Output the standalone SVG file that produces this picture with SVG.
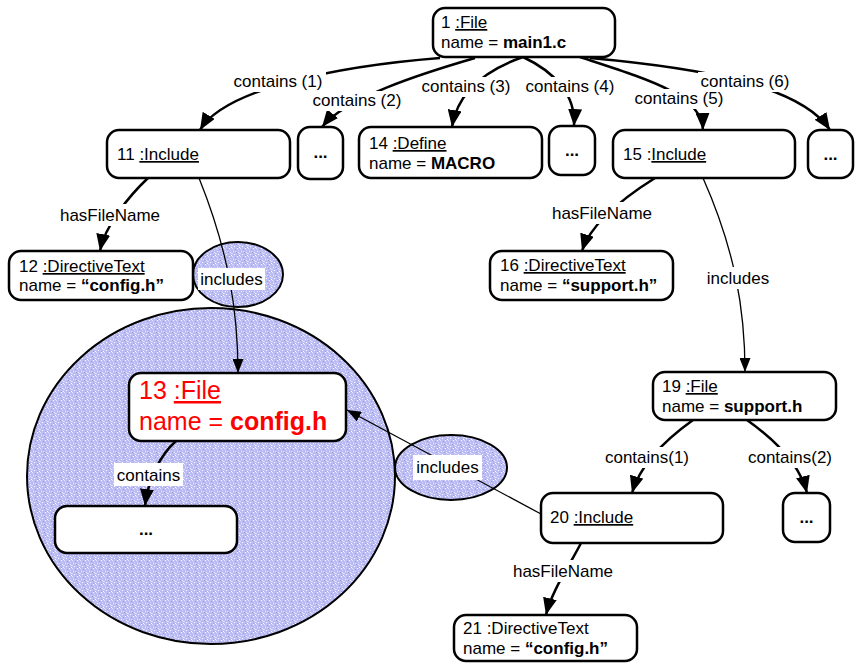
<svg xmlns="http://www.w3.org/2000/svg" width="857" height="663" viewBox="0 0 857 663">
<style>
.node rect{fill:#fff;stroke:#000;stroke-width:2.5}
text{font-family:"Liberation Sans",Arial,sans-serif;font-size:17px;fill:#000}
.u{text-decoration:underline}
.b{font-weight:bold}
.e{fill:none;stroke:#000;stroke-width:2.5}
.t{fill:none;stroke:#000;stroke-width:1.3}
.lb{fill:#fff}
.zone{fill:url(#tex);stroke:#000;stroke-width:2}
</style>
<defs>
<pattern id="tex" width="8" height="8" patternUnits="userSpaceOnUse">
<rect width="8" height="8" fill="#bcbcf4"/>
<rect x="0" y="0" width="1" height="1" fill="#e2e2fc"/>
<rect x="3" y="1" width="1" height="1" fill="#9a9ae6"/>
<rect x="5" y="0" width="1" height="1" fill="#ffffff"/>
<rect x="1" y="3" width="1" height="1" fill="#f0f0ff"/>
<rect x="6" y="2" width="1" height="1" fill="#d0d0f8"/>
<rect x="4" y="4" width="1" height="1" fill="#a0a0e8"/>
<rect x="2" y="6" width="1" height="1" fill="#ffffff"/>
<rect x="7" y="5" width="1" height="1" fill="#e6e6fd"/>
<rect x="5" y="7" width="1" height="1" fill="#9c9ce4"/>
<rect x="0" y="5" width="1" height="1" fill="#d8d8fa"/>
<rect x="7" y="7" width="1" height="1" fill="#ffffff"/>
<rect x="3" y="3" width="1" height="1" fill="#dadafb"/>
<rect x="6" y="4" width="1" height="1" fill="#ececfe"/>
<rect x="1" y="1" width="1" height="1" fill="#d4d4f9"/>
</pattern>
<marker id="ah" markerUnits="userSpaceOnUse" markerWidth="18" markerHeight="14" refX="17" refY="7" orient="auto">
<path d="M0,0 L17,7 L0,14 Z" fill="#000"/>
</marker>
<marker id="ahs" markerUnits="userSpaceOnUse" markerWidth="14" markerHeight="11" refX="14" refY="5.5" orient="auto">
<path d="M0,0 L14,5.5 L0,11 Z" fill="#000"/>
</marker>
</defs>

<g id="zones">
<ellipse class="zone" cx="211" cy="476" rx="184" ry="168"/>
<ellipse class="zone" cx="238" cy="274.5" rx="45" ry="32.5"/>
<ellipse class="zone" cx="451" cy="467.5" rx="56" ry="32.5"/>
</g>

<g id="connectors">
<path class="e" d="M 440 58 C 340 66, 225 88, 200 130" marker-end="url(#ah)"/>
<path class="e" d="M 475 58 C 420 74, 345 98, 322 127" marker-end="url(#ah)"/>
<path class="e" d="M 523 57 C 480 72, 457 95, 452 127" marker-end="url(#ah)"/>
<path class="e" d="M 523 57 C 555 72, 576 95, 574 126" marker-end="url(#ah)"/>
<path class="e" d="M 580 57 C 650 80, 702 95, 703 130" marker-end="url(#ah)"/>
<path class="e" d="M 590 58 C 700 68, 800 85, 830 130" marker-end="url(#ah)"/>
<path class="e" d="M 148 178 C 130 195, 105 225, 100 251" marker-end="url(#ah)"/>
<path class="t" d="M 199 178 C 228 250, 238 310, 238 373" marker-end="url(#ahs)"/>
<path class="e" d="M 655 178 C 620 200, 590 225, 582 251" marker-end="url(#ah)"/>
<path class="t" d="M 703 178 C 735 250, 745 310, 745 372" marker-end="url(#ahs)"/>
<path class="e" d="M 693 420 C 665 440, 640 465, 632 493" marker-end="url(#ah)"/>
<path class="e" d="M 747 420 C 775 440, 800 465, 807 493" marker-end="url(#ah)"/>
<path class="t" d="M 541 514 L 347 410" marker-end="url(#ahs)"/>
<path class="e" d="M 581 543 C 570 565, 552 590, 546 615" marker-end="url(#ah)"/>
<path class="e" d="M 176 441 C 160 455, 148 480, 145 506" marker-end="url(#ah)"/>
</g>

<g id="labels">
<rect class="lb" x="230" y="72" width="96" height="20"/><text x="278" y="87" text-anchor="middle">contains (1)</text>
<rect class="lb" x="310" y="91" width="94" height="20"/><text x="357" y="106" text-anchor="middle">contains (2)</text>
<rect class="lb" x="418" y="77" width="96" height="20"/><text x="466" y="92" text-anchor="middle">contains (3)</text>
<rect class="lb" x="523" y="77" width="94" height="20"/><text x="570" y="92" text-anchor="middle">contains (4)</text>
<rect class="lb" x="631" y="89" width="96" height="20"/><text x="679" y="104" text-anchor="middle">contains (5)</text>
<rect class="lb" x="698" y="72" width="94" height="20"/><text x="745" y="87" text-anchor="middle">contains (6)</text>
<rect class="lb" x="58" y="204" width="104" height="22"/><text x="110" y="221" text-anchor="middle">hasFileName</text>
<rect class="lb" x="198" y="268" width="67" height="22"/><text x="231.5" y="285" text-anchor="middle">includes</text>
<rect class="lb" x="550" y="202" width="104" height="22"/><text x="602" y="219" text-anchor="middle">hasFileName</text>
<rect class="lb" x="705" y="267" width="66" height="22"/><text x="738" y="284" text-anchor="middle">includes</text>
<rect class="lb" x="603" y="447" width="89" height="21"/><text x="647" y="463" text-anchor="middle">contains(1)</text>
<rect class="lb" x="746" y="447" width="89" height="21"/><text x="790" y="463" text-anchor="middle">contains(2)</text>
<rect class="lb" x="413" y="455" width="69" height="25"/><text x="447.5" y="473" text-anchor="middle">includes</text>
<rect class="lb" x="511" y="560" width="104" height="22"/><text x="563" y="577" text-anchor="middle">hasFileName</text>
<rect class="lb" x="114" y="463" width="69" height="23"/><text x="148.5" y="481" text-anchor="middle">contains</text>
</g>

<g id="n1" class="node"><rect x="433" y="8" width="182" height="49" rx="12"/><text x="441" y="28">1 <tspan class="u">:File</tspan></text><text x="441" y="48">name = <tspan class="b">main1.c</tspan></text></g>
<g id="n11" class="node"><rect x="107" y="130" width="183" height="48" rx="12"/><text x="117" y="160">11 <tspan class="u">:Include</tspan></text></g>
<g id="n2" class="node"><rect x="298" y="127" width="45" height="52" rx="12"/><text x="320.5" y="158" text-anchor="middle" class="b">...</text></g>
<g id="n14" class="node"><rect x="359" y="127" width="183" height="51" rx="12"/><text x="369" y="149">14 <tspan class="u">:Define</tspan></text><text x="369" y="169">name = <tspan class="b">MACRO</tspan></text></g>
<g id="n4" class="node"><rect x="549" y="126" width="46" height="49" rx="12"/><text x="572" y="156" text-anchor="middle" class="b">...</text></g>
<g id="n15" class="node"><rect x="613" y="130" width="182" height="48" rx="12"/><text x="623" y="160">15 :<tspan class="u">Include</tspan></text></g>
<g id="n6" class="node"><rect x="808" y="130" width="45" height="48" rx="12"/><text x="830.5" y="160" text-anchor="middle" class="b">...</text></g>
<g id="n12" class="node"><rect x="9" y="251" width="184" height="49" rx="12"/><text x="19" y="272">12 <tspan class="u">:DirectiveText</tspan></text><text x="19" y="291">name = <tspan class="b">“config.h”</tspan></text></g>
<g id="n16" class="node"><rect x="490" y="251" width="183" height="49" rx="12"/><text x="500" y="271">16 <tspan class="u">:DirectiveText</tspan></text><text x="500" y="291">name = <tspan class="b">“support.h”</tspan></text></g>
<g id="n13" class="node"><rect x="129" y="373" width="217" height="68" rx="12"/><text x="139" y="399" style="font-size:25px;fill:#f00">13 <tspan class="u">:File</tspan></text><text x="139" y="430" style="font-size:25px;fill:#f00">name = <tspan class="b">config.h</tspan></text></g>
<g id="n17" class="node"><rect x="55" y="506" width="182" height="47" rx="12"/><text x="146" y="535" text-anchor="middle" class="b">...</text></g>
<g id="n19" class="node"><rect x="653" y="372" width="183" height="48" rx="12"/><text x="662" y="392">19 <tspan class="u">:File</tspan></text><text x="662" y="412">name = <tspan class="b">support.h</tspan></text></g>
<g id="n20" class="node"><rect x="541" y="493" width="182" height="50" rx="12"/><text x="550" y="523">20 <tspan class="u">:Include</tspan></text></g>
<g id="n22" class="node"><rect x="783" y="493" width="47" height="49" rx="12"/><text x="806.5" y="523" text-anchor="middle" class="b">...</text></g>
<g id="n21" class="node"><rect x="454" y="615" width="183" height="46" rx="12"/><text x="463" y="634">21 :DirectiveText</text><text x="463" y="654">name = <tspan class="b">“config.h”</tspan></text></g>
</svg>
